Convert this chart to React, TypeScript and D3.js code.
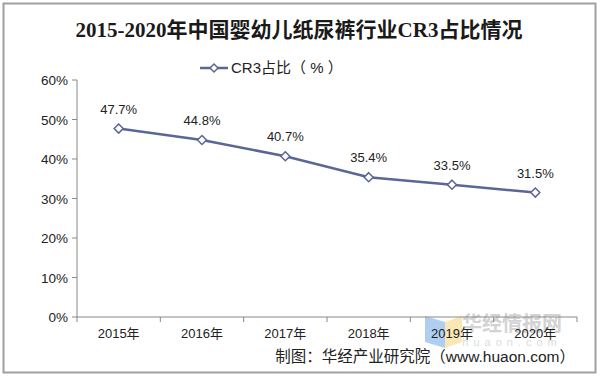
import React from "react";
import * as d3 from "d3";

const years = ["2015年", "2016年", "2017年", "2018年", "2019年", "2020年"];
const values = [47.7, 44.8, 40.7, 35.4, 33.5, 31.5];
const yTicks = [0, 10, 20, 30, 40, 50, 60];

const W = 600;
const H = 376;
const LINE = "#5a6696";
const SANS = "'Liberation Sans', Arial, 'Noto Sans CJK SC', sans-serif";

export default function App() {
  const x = d3.scaleBand<string>().domain(years).range([77, 577]);
  const y = d3.scaleLinear().domain([0, 60]).range([317, 80]);
  const cx = (d: string) => (x(d) as number) + x.bandwidth() / 2;
  const line = d3
    .line<number>()
    .x((_, i) => cx(years[i]))
    .y((v) => y(v));
  const diamond = (px: number, py: number, r = 4.5) =>
    `M${px},${py - r}L${px + r},${py}L${px},${py + r}L${px - r},${py}Z`;

  return (
    <svg
      width={W}
      height={H}
      style={{ position: "absolute", left: 0, top: 0, background: "#fff" }}
    >
      <rect x={0} y={0} width={W} height={H} fill="#fff" />
      <rect x={3.5} y={3.5} width={592} height={369} fill="none" stroke="#a0a0a0" strokeWidth={2} />

      {/* watermark */}
      <g opacity={0.55}>
        <polygon points="425,316 445,322 445,348 425,342" fill="#6fa8e8" />
        <polygon points="445,322 462,316 462,342 445,348" fill="#f5d77a" />
        <text x={512} y={331} textAnchor="middle" fontFamily="'Noto Sans CJK SC', sans-serif" fontWeight="bold" fontSize={20} fill="#b0b0b0">
          华经情报网
        </text>
        <text x={512} y={346} textAnchor="middle" fontFamily={SANS} fontSize={11} letterSpacing={5} fill="#c0c0c0">
          huaon.com
        </text>
      </g>

      <text
        x={299}
        y={37}
        textAnchor="middle"
        fontFamily="'Liberation Serif', 'Noto Sans CJK SC', serif"
        fontWeight="bold"
        fontSize={21}
        fill="#1a1a1a"
      >
        2015-2020年中国婴幼儿纸尿裤行业CR3占比情况
      </text>

      {/* legend */}
      <line x1={200} y1={68} x2={228} y2={68} stroke={LINE} strokeWidth={2.5} />
      <path d={diamond(214, 68, 4)} fill="#fff" stroke={LINE} strokeWidth={1.5} />
      <text x={231} y={73} fontFamily={SANS} fontSize={15} fill="#222">
        CR3占比（ % ）
      </text>

      {/* y axis */}
      <line x1={77} y1={y(0)} x2={77} y2={y(60)} stroke="#888" strokeWidth={1} />
      {yTicks.map((t) => (
        <g key={t}>
          <line x1={72} x2={77} y1={y(t)} y2={y(t)} stroke="#888" />
          <text x={68} y={y(t) + 5} textAnchor="end" fontFamily={SANS} fontSize={13.5} fill="#222">
            {t}%
          </text>
        </g>
      ))}

      {/* x axis */}
      <line x1={77} y1={y(0)} x2={577} y2={y(0)} stroke="#888" strokeWidth={1} />
      {years.map((d) => (
        <line
          key={"t" + d}
          x1={(x(d) as number) + x.bandwidth()}
          x2={(x(d) as number) + x.bandwidth()}
          y1={y(0)}
          y2={y(0) + 5}
          stroke="#888"
        />
      ))}
      <line x1={77} x2={77} y1={y(0)} y2={y(0) + 5} stroke="#888" />
      {years.map((d) => (
        <text key={d} x={cx(d)} y={338} textAnchor="middle" fontFamily={SANS} fontSize={13} fill="#222">
          {d}
        </text>
      ))}

      <path d={line(values) || ""} fill="none" stroke={LINE} strokeWidth={2.5} />
      {values.map((v, i) => (
        <g key={i}>
          <path d={diamond(cx(years[i]), y(v))} fill="#fff" stroke={LINE} strokeWidth={1.5} />
          <text x={cx(years[i])} y={y(v) - 15} textAnchor="middle" fontFamily={SANS} fontSize={13} fill="#222">
            {v.toFixed(1)}%
          </text>
        </g>
      ))}

      <text x={575} y={362} textAnchor="end" fontFamily={SANS} fontSize={15.5} fill="#222">
        制图：华经产业研究院（www.huaon.com）
      </text>
    </svg>
  );
}
